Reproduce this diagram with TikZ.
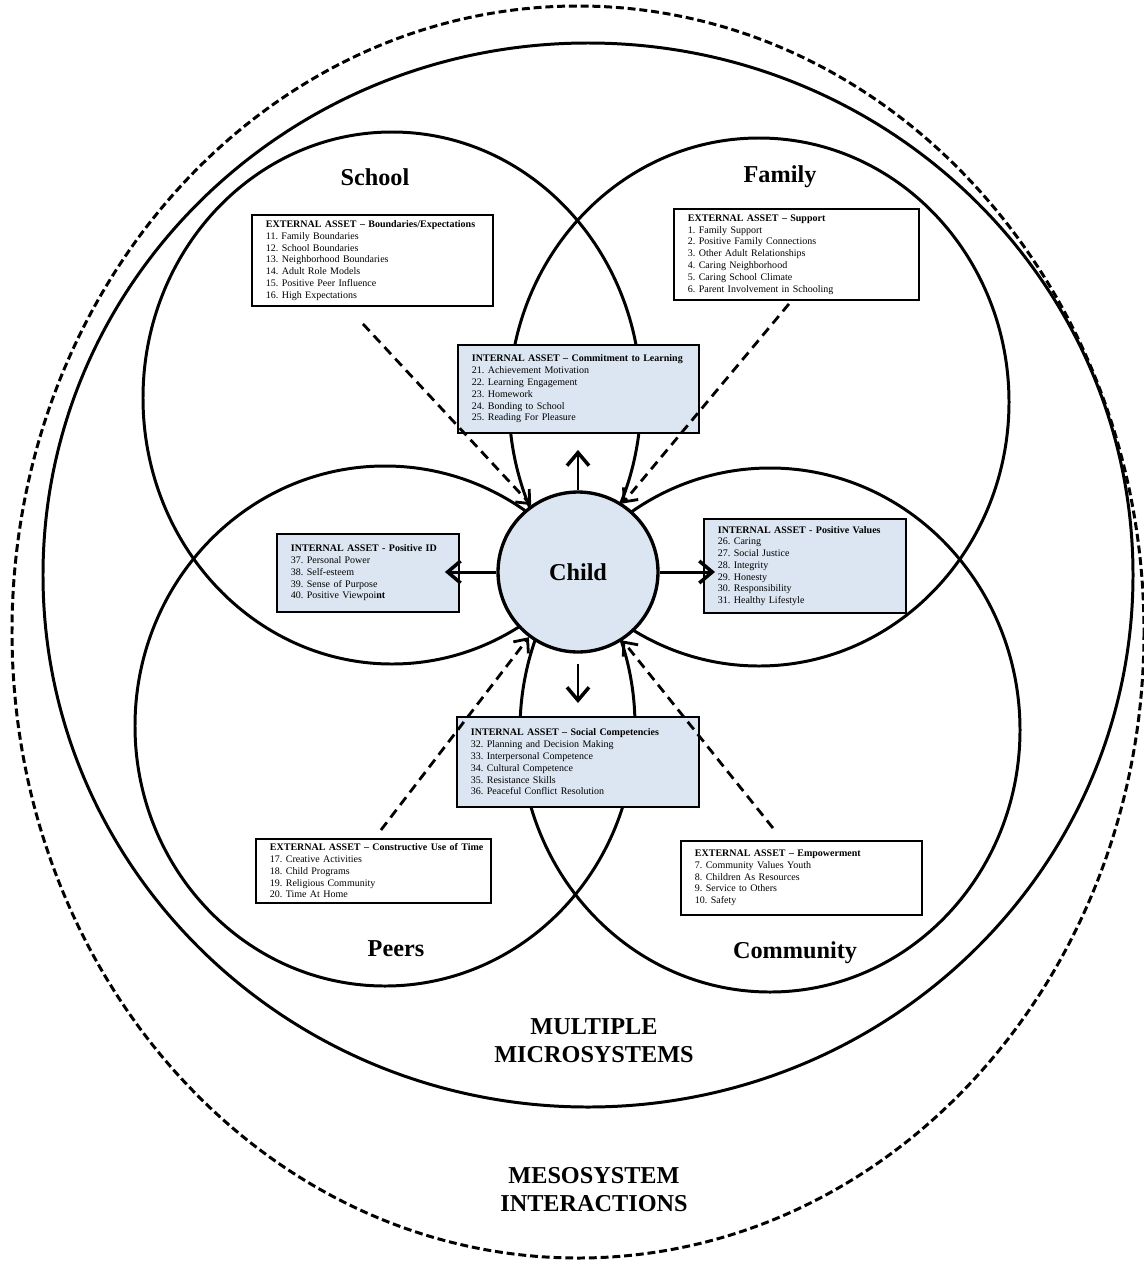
\documentclass[tikz,border=0pt]{standalone}
\usepackage{fontspec}
\setmainfont{Liberation Serif}
\usepackage{xcolor}
\usepackage{tikz}
\usetikzlibrary{arrows.meta, calc}
\definecolor{assetblue}{HTML}{DCE6F2}
\newcommand{\assethead}[1]{\mbox{\bfseries #1}}
\frenchspacing

\begin{document}
\begin{tikzpicture}[x=0.02cm, y=-0.02cm,
    ring/.style={line width=1.7pt},
    extbox/.style={draw, line width=1.1pt, fill=white, anchor=north west, align=left,
        inner xsep=0.28cm, inner ysep=0.05cm, font=\fontsize{5.7}{6.7}\selectfont},
    intbox/.style={extbox, fill=assetblue},
    zonelabel/.style={font=\fontsize{13.8}{16}\selectfont\bfseries, align=center},
    outarrow/.style={line width=1.7pt,
        -{Straight Barb[length=2.6mm, width=4.4mm, line width=2pt]}},
    inarrow/.style={line width=1.6pt, dash pattern=on 5.5pt off 3.5pt,
        -{Straight Barb[length=2.2mm, width=3.8mm, line width=1.6pt]}}
]
    \useasboundingbox (0,0) rectangle (1143,1268);

    % 四个微系统圆 (略呈椭圆)
    \def\schoolring{(392,398) circle [x radius=249, y radius=266]}
    \def\familyring{(759,402) circle [x radius=250, y radius=264]}
    \def\peersring{(385,726) circle [x radius=250, y radius=260]}
    \def\communityring{(770,730) circle [x radius=250, y radius=262]}

    % 1. 外层: 中间系统 (虚线) 与多重微系统 (实线)
    \draw[ring, dash pattern=on 4.5pt off 2.2pt] (578,632) circle [x radius=566, y radius=626];
    \draw[ring] (588,575) circle [x radius=545, y radius=532];

    % 2. 四个圆的轮廓线
    \draw[ring] \schoolring;
    \draw[ring] \familyring;
    \draw[ring] \peersring;
    \draw[ring] \communityring;

    % 3. 圆的名称
    \node[zonelabel] (school) at (375,177) {School};
    \node[zonelabel] (family) at (780,177) {Family};
    \node[zonelabel] (peers) at (396,949) {Peers};
    \node[zonelabel] (community) at (795,953) {Community};
    \node[zonelabel] (micro) at (594,1041) {MULTIPLE\\MICROSYSTEMS};
    \node[zonelabel] (meso) at (594,1190) {MESOSYSTEM\\INTERACTIONS};

    % 4. 外部资产 (白色框)
    \node[extbox, text width=4.26cm, minimum height=1.82cm] (bound) at (251,214) {%
        \assethead{EXTERNAL ASSET -- Boundaries/Expectations}\\
        11. Family Boundaries\\
        12. School Boundaries\\
        13. Neighborhood Boundaries\\
        14. Adult Role Models\\
        15. Positive Peer Influence\\
        16. High Expectations};
    \node[extbox, text width=4.34cm, minimum height=1.82cm] (supp) at (673,208) {%
        \assethead{EXTERNAL ASSET -- Support}\\
        1. Family Support\\
        2. Positive Family Connections\\
        3. Other Adult Relationships\\
        4. Caring Neighborhood\\
        5. Caring School Climate\\
        6. Parent Involvement in Schooling};
    \node[extbox, text width=4.14cm, minimum height=1.28cm] (usetime) at (255,838) {%
        \assethead{EXTERNAL ASSET -- Constructive Use of Time}\\
        17. Creative Activities\\
        18. Child Programs\\
        19. Religious Community\\
        20. Time At Home};
    \node[extbox, text width=4.26cm, minimum height=1.48cm] (empower) at (680,840) {%
        \assethead{EXTERNAL ASSET -- Empowerment}\\
        7. Community Values Youth\\
        8. Children As Resources\\
        9. Service to Others\\
        10. Safety};

    % 5. 内部资产 (浅蓝色框)
    \node[intbox, text width=4.26cm, minimum height=1.76cm] (commit) at (457,344) {%
        \assethead{INTERNAL ASSET -- Commitment to Learning}\\
        21. Achievement Motivation\\
        22. Learning Engagement\\
        23. Homework\\
        24. Bonding to School\\
        25. Reading For Pleasure};
    \node[intbox, text width=3.08cm, minimum height=1.56cm] (posid) at (276,533) {%
        \assethead{INTERNAL ASSET - Positive ID}\\
        37. Personal Power\\
        38. Self-esteem\\
        39. Sense of Purpose\\
        40. Positive Viewpoi\textbf{nt}};
    \node[intbox, text width=3.48cm, minimum height=1.88cm] (values) at (703,518) {%
        \assethead{INTERNAL ASSET - Positive Values}\\
        26. Caring\\
        27. Social Justice\\
        28. Integrity\\
        29. Honesty\\
        30. Responsibility\\
        31. Healthy Lifestyle};
    \node[intbox, text width=4.28cm, minimum height=1.80cm] (social) at (456,716) {%
        \assethead{INTERNAL ASSET -- Social Competencies}\\
        32. Planning and Decision Making\\
        33. Interpersonal Competence\\
        34. Cultural Competence\\
        35. Resistance Skills\\
        36. Peaceful Conflict Resolution};

    % 6. 中心: 儿童
    \node[circle, draw, line width=1.9pt, fill=assetblue, minimum size=3.2cm,
        font=\fontsize{13.8}{16}\selectfont\bfseries] (child) at (578,572) {Child};

    % 儿童 -> 内部资产
    \draw[outarrow, shorten >=0.32cm] (child.north) -- (child.north |- commit.south);
    \draw[outarrow, shorten >=-0.30cm] (child.west) -- (child.west -| posid.east);
    \draw[outarrow, shorten >=-0.24cm] (child.east) -- (child.east -| values.west);
    \draw[outarrow, shorten <=0.2cm, shorten >=0.26cm] (child.south) -- (child.south |- social.north);

    % 外部资产 -> 儿童 (虚线)
    \draw[inarrow] ([xshift=-0.19cm, yshift=-0.34cm]bound.south) -- (child.125);
    \draw[inarrow] ([xshift=-0.15cm, yshift=-0.06cm]supp.south) -- (child.57);
    \draw[inarrow] ([xshift=0.15cm, yshift=0.16cm]usetime.north) -- (child.233);
    \draw[inarrow] ([xshift=-0.57cm, yshift=0.24cm]empower.north) -- (child.303);
\end{tikzpicture}
\end{document}
